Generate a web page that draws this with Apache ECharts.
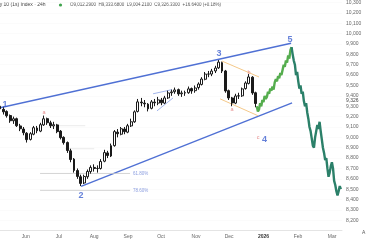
<!DOCTYPE html>
<html><head><meta charset="utf-8">
<script src="https://cdn.jsdelivr.net/npm/echarts@6/dist/echarts.min.js"></script>
<style>html,body{margin:0;padding:0;background:#fff}#c{width:370px;height:240px}</style>
</head><body><div id="c"></div>
<script>
// Month tick positions (day index from start) and labels
var monthTicks = [22.9, 52.6, 83.9, 114.2, 143.6, 174.8, 204.3, 235, 265.8, 296.2];
var monthLabels = ['Jun', 'Jul', 'Aug', 'Sep', 'Oct', 'Nov', 'Dec', '2026', 'Feb', 'Mar'];

// Historical bars: [day, open, close, low, high]
var bars = [
[0,9300,9275,9250,9320],[3,9270,9246,9220,9290],[6,9250,9208,9190,9260],[9,9210,9160,9140,9220],
[12,9160,9179,9130,9200],[15,9180,9112,9100,9190],[18,9110,9083,9060,9130],[21,9080,9045,9020,9100],
[24,9040,8978,8950,9050],[27,8980,9035,8970,9050],[30,9030,9093,9020,9110],[33,9090,9064,9040,9110],
[36,9060,9122,9050,9140],[39,9120,9179,9110,9210],[42,9180,9141,9120,9190],[45,9140,9112,9090,9160],
[48,9110,9122,9080,9150],[51,9120,9055,9040,9130],[54,9060,8997,8980,9070],[57,9000,8949,8930,9010],
[60,8950,8873,8850,8960],[63,8870,8786,8760,8890],[66,8790,8681,8660,8800],[69,8680,8623,8600,8700],
[72,8620,8556,8530,8640],[75,8560,8623,8550,8640],[78,8620,8671,8600,8690],[81,8670,8710,8650,8730],
[84,8710,8700,8670,8740],[87,8700,8700,8660,8730],[90,8700,8767,8690,8790],[93,8770,8853,8760,8880],
[96,8850,8825,8800,8870],[99,8820,8920,8810,8940],[102,8920,9055,8910,9070],[105,9050,9035,9000,9080],
[108,9030,9083,9020,9100],[111,9080,9055,9030,9100],[114,9050,9112,9040,9130],[117,9110,9150,9100,9180],
[120,9150,9246,9140,9260],[123,9250,9342,9240,9370],[126,9340,9333,9300,9380],[129,9330,9323,9290,9360],
[132,9320,9275,9250,9330],[135,9280,9342,9270,9360],[138,9340,9333,9300,9370],[141,9330,9361,9310,9390],
[144,9360,9333,9310,9380],[147,9330,9380,9320,9400],[150,9380,9428,9370,9450],[153,9430,9438,9400,9460],
[156,9440,9457,9420,9480],[159,9460,9419,9400,9470],[162,9420,9428,9390,9450],[165,9430,9428,9400,9450],
[168,9430,9467,9420,9490],[171,9470,9447,9420,9480],[174,9450,9476,9430,9500],[177,9480,9514,9460,9530],
[180,9510,9562,9500,9580],[183,9560,9610,9550,9630],[186,9610,9610,9580,9640],[189,9610,9639,9590,9660],
[192,9640,9668,9620,9690],[195,9670,9725,9660,9745],[198,9720,9639,9620,9730],[201,9640,9447,9430,9650],
[204,9450,9380,9360,9460],[207,9380,9332,9300,9390],[210,9330,9399,9320,9420],[213,9400,9399,9370,9430],
[216,9400,9467,9390,9480],[219,9470,9524,9460,9540],[222,9520,9582,9510,9610],[225,9580,9428,9410,9590],
[228,9430,9326,9290,9440]
];

// Projected rise (wave 5)
var projUp = [
[229,9300],[230,9250],[231,9270],[232,9330],[233,9300],[234,9360],[235,9340],[236,9400],[237,9370],
[238,9390],[239,9440],[240,9420],[241,9470],[242,9450],[243,9490],[244,9460],[245,9530],[246,9560],
[247,9540],[248,9590],[249,9570],[250,9620],[251,9600],[252,9650],[253,9700],[254,9680],[255,9740],
[256,9720],[257,9790],[258,9760],[259,9840],[260,9870]
];

// Projected decline
var projDown = [
[260,9870],[261,9800],[262,9740],[263,9700],[264,9600],[265,9630],[266,9540],[267,9470],[268,9500],
[269,9420],[270,9440],[271,9350],[272,9300],[273,9330],[274,9240],[275,9180],[276,9100],[277,9060],
[278,8990],[279,8920],[280,8900],[281,9000],[282,9060],[283,9120],[284,9080],[285,9150],[286,9060],
[287,8980],[288,8900],[289,8850],[290,8780],[291,8800],[292,8700],[293,8620],[294,8660],[295,8720],
[296,8760],[297,8700],[298,8580],[299,8540],[300,8480],[301,8440],[302,8480],[303,8530],[304,8500]
];

// Trend lines [[x1,y1],[x2,y2]]
var upperChannel = [[0,9285],[259.6,9907]];
var lowerChannel = [[72.3,8528],[260.5,9332]];
var corrUpper = [[198,9735],[231,9582]];
var corrLower = [[196.3,9371],[230.2,9208]];
var miniUpper = [[136.5,9420],[153.4,9460]];
var miniLower = [[140,9255],[154.3,9380]];
// Fibonacci levels
var fibLevels = [['61.80%', 8652], ['78.60%', 8489]];
var fibRange = [35.7, 116];
var smallLevels = [[[50.8,9112],[76,9112]], [[58,8890],[84,8890]]];

// Wave labels [text, x, y]
var waveLabels = [['1',4.5,9313],['2',72.3,8441],['3',195.4,9811],['4',235.8,8978],['5',258.7,9946]];
var subLabels = [['b',222,9629],['a',207,9270],['c',230.2,8997],['a',39.3,9237]];

var chart = echarts.init(document.getElementById('c'), null, {renderer:'canvas'});
var FONT = 'Liberation Sans';
function fmt(v){ return v.toLocaleString('en-US'); }
function lineSeries(pts, color, w){
  return {type:'line', data:pts, symbol:'none', silent:true, z:3,
    lineStyle:{color:color, width:w}, animation:false};
}
var series = [];
series.push(lineSeries(upperChannel,'#4f70d4',1.4));
series.push(lineSeries(lowerChannel,'#4f70d4',1.4));
series.push(lineSeries(corrUpper,'#f4c889',1));
series.push(lineSeries(corrLower,'#f4c889',1));
series.push(lineSeries(miniUpper,'#8aa2e6',0.8));
series.push(lineSeries(miniLower,'#8aa2e6',0.8));
fibLevels.forEach(function(f){
  series.push(lineSeries([[fibRange[0],f[1]],[fibRange[1],f[1]]],'#c9c9c9',0.8));
});
smallLevels.forEach(function(s){ series.push(lineSeries(s,'#dcdcdc',0.6)); });
series.push({type:'candlestick', data:bars, encode:{x:0,y:[1,2,3,4]}, barWidth:2.4, z:4, animation:false,
  itemStyle:{color:'#ffffff', color0:'#1a1a1a', borderColor:'#1a1a1a', borderColor0:'#1a1a1a', borderWidth:1}});
series.push({type:'line', data:projUp, symbol:'none', z:4, animation:false,
  lineStyle:{color:'#55ad4e', width:2.4}});
series.push({type:'line', data:projDown, symbol:'none', z:4, animation:false,
  lineStyle:{color:'#2b8069', width:2.4}});
series.push({type:'scatter', symbolSize:0, z:6, animation:false,
  data: fibLevels.map(function(f){ return {value:[fibRange[1]+2.5, f[1]], name:f[0]}; }),
  label:{show:true, position:'right', distance:0, formatter:'{b}', color:'#6f86d8', fontSize:4.5, fontFamily:FONT}});
series.push({type:'scatter', symbolSize:0, z:6, animation:false,
  data: waveLabels.map(function(w){ return {value:[w[1], w[2]], name:w[0]}; }),
  label:{show:true, position:'inside', formatter:'{b}', color:'#3f62cf', fontSize:9, fontWeight:'bold', fontFamily:FONT}});
series.push({type:'scatter', symbolSize:0, z:6, animation:false,
  data: subLabels.map(function(w){ return {value:[w[1], w[2]], name:w[0]}; }),
  label:{show:true, position:'inside', formatter:'{b}', color:'#e07070', fontSize:5.5, fontFamily:FONT}});

chart.setOption({
  animation:false,
  grid:{left:0, right:28, top:1, bottom:9.3, containLabel:false},
  xAxis:{type:'value', min:0, max:305,
    axisLine:{show:true, lineStyle:{color:'#e4e4e4'}}, axisTick:{show:false}, splitLine:{show:false},
    axisLabel:{customValues:monthTicks, margin:3, fontSize:5, color:'#666', fontFamily:FONT,
      formatter:function(v){ var i = monthTicks.indexOf(v); var t = monthLabels[i]||''; return t==='2026'?'{b|2026}':t; },
      rich:{b:{fontWeight:'bold', fontSize:5, color:'#333', fontFamily:FONT}}}},
  yAxis:{type:'value', position:'right', min:8100, max:10300, interval:100, scale:true,
    axisLine:{show:false}, axisTick:{show:false},
    splitLine:{show:true, lineStyle:{color:'#f6f6f6', width:0.5}},
    axisLabel:{showMinLabel:false, align:'left', margin:4, fontSize:5, color:'#666', fontFamily:FONT,
      formatter:function(v){ return fmt(v); }}},
  graphic:[
    {type:'text', left:-2, top:2, style:{text:'ry 10 (1s) Index \u00b7 24h', fontSize:5, fill:'#444', fontFamily:FONT}},
    {type:'circle', shape:{cx:60.5, cy:5, r:1.6}, style:{fill:'#3fa34d'}},
    {type:'text', left:70, top:2, style:{text:'O9,012.2900  H9,333.6800  L9,004.2100  C9,326.3300  +16.6400 (+0.18%)', fontSize:4.5, fill:'#555', fontFamily:FONT}},
    {type:'text', left:346, top:98.5, style:{text:'9,326', fontSize:5, fill:'#444', fontFamily:FONT}},
    {type:'text', left:362, top:230, style:{text:'A', fontSize:5, fill:'#555', fontFamily:FONT}}
  ],
  series:series
});
</script></body></html>
